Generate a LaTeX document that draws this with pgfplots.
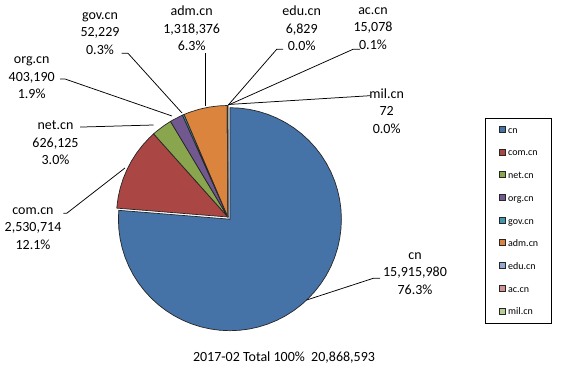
\documentclass[border=0pt]{standalone}
\usepackage{pgfplots}
\pgfplotsset{compat=1.18}
\usepackage{fontspec}
\setmainfont{Carlito}
\definecolor{ccn}{HTML}{4572A7}
\definecolor{ccom}{HTML}{AA4643}
\definecolor{cnet}{HTML}{89A54E}
\definecolor{corg}{HTML}{71588F}
\definecolor{cgov}{HTML}{4198AF}
\definecolor{cadm}{HTML}{DB843D}
\definecolor{cedu}{HTML}{93A9CF}
\definecolor{cac}{HTML}{D19392}
\definecolor{cmil}{HTML}{B9CD96}
\begin{document}
\begin{tikzpicture}[x=1pt,y=1pt]
\path[use as bounding box] (0,0) rectangle (563,369);
% Values: cn 15915980, com.cn 2530714, net.cn 626125, org.cn 403190, gov.cn 52229,
% adm.cn 1318376, edu.cn 6829, ac.cn 15078, mil.cn 72 (total 20868593);
% wedge boundaries in degrees, clockwise from 12 o'clock.
\begin{axis}[x=111.5pt,y=111.5pt,hide axis,
  xmin=-1.05,xmax=1.05,ymin=-1.05,ymax=1.05,
  anchor=origin,at={(227.9pt,152pt)},clip=false,
  wedge/.style={draw=black!85,line width=0.7pt,data cs=polar,forget plot},
  legend image code/.code={\draw[#1] (0pt,-2.5pt) rectangle (6pt,3.5pt);},
  legend cell align=left,
  legend style={at={(1.5993,0.9241)},anchor=north west,draw=black,line width=0.8pt,
    font=\fontsize{10}{12}\selectfont,row sep=0pt,inner xsep=13.4pt,inner ysep=0.3pt,
    column sep=2.5pt,
    nodes={inner sep=0pt,text height=14.85pt,text depth=7.85pt}},
]
\addplot[wedge,fill=ccn,xshift=2pt,yshift=-2.2pt] coordinates {(0,0) (90,1) (85,1) (80,1) (75,1) (70,1) (65,1) (60,1) (55,1) (50,1) (45,1) (40,1) (35,1) (30,1) (25,1) (20,1) (15,1) (10,1) (5,1) (0,1) (-5,1) (-10,1) (-15,1) (-20,1) (-25,1) (-30,1) (-35,1) (-40,1) (-45,1) (-50,1) (-55,1) (-60,1) (-65,1) (-70,1) (-75,1) (-80,1) (-85,1) (-90,1) (-95,1) (-100,1) (-105,1) (-110,1) (-115,1) (-120,1) (-125,1) (-130,1) (-135,1) (-140,1) (-145,1) (-150,1) (-155,1) (-160,1) (-165,1) (-170,1) (-175,1) (-180,1) (-184.564,1)} -- cycle;
\addplot[wedge,fill=ccom] coordinates {(0,0) (-184.564,1) (-190,1) (-195,1) (-200,1) (-205,1) (-210,1) (-215,1) (-220,1) (-225,1) (-228.221,1)} -- cycle;
\addplot[wedge,fill=cnet] coordinates {(0,0) (-228.221,1) (-230,1) (-235,1) (-239.022,1)} -- cycle;
\addplot[wedge,fill=corg] coordinates {(0,0) (-239.022,1) (-240,1) (-245,1) (-245.977,1)} -- cycle;
\addplot[wedge,fill=cgov] coordinates {(0,0) (-245.977,1) (-246.878,1)} -- cycle;
\addplot[wedge,fill=cadm] coordinates {(0,0) (-246.878,1) (-250,1) (-255,1) (-260,1) (-265,1) (-269.621,1)} -- cycle;
\addplot[wedge,fill=cedu] coordinates {(0,0) (-269.621,1) (-269.739,1)} -- cycle;
\addplot[wedge,fill=cac] coordinates {(0,0) (-269.739,1) (-269.999,1)} -- cycle;
\addplot[wedge,fill=cmil] coordinates {(0,0) (-269.999,1) (-270,1)} -- cycle;
\addlegendimage{fill=ccn,draw=black!85,line width=0.6pt}\addlegendentry{cn}
\addlegendimage{fill=ccom,draw=black!85,line width=0.6pt}\addlegendentry{com.cn}
\addlegendimage{fill=cnet,draw=black!85,line width=0.6pt}\addlegendentry{net.cn}
\addlegendimage{fill=corg,draw=black!85,line width=0.6pt}\addlegendentry{org.cn}
\addlegendimage{fill=cgov,draw=black!85,line width=0.6pt}\addlegendentry{gov.cn}
\addlegendimage{fill=cadm,draw=black!85,line width=0.6pt}\addlegendentry{adm.cn}
\addlegendimage{fill=cedu,draw=black!85,line width=0.6pt}\addlegendentry{edu.cn}
\addlegendimage{fill=cac,draw=black!85,line width=0.6pt}\addlegendentry{ac.cn}
\addlegendimage{fill=cmil,draw=black!85,line width=0.6pt}\addlegendentry{mil.cn}
\end{axis}
\begin{scope}[line width=0.75pt]
\draw (121.7,315.7) -- (128,315.7) -- (182,256);
\draw (60,290) -- (65,290) -- (172,253);
\draw (205,316) -- (205,263);
\draw (283,319.7) -- (276.7,319.7) -- (228.3,264);
\draw (360,319.7) -- (353,319.7) -- (228.5,264);
\draw (370,273.3) -- (228.5,264.5);
\draw (80,242) -- (83,242) -- (153.5,244);
\draw (63.3,155.7) -- (66.7,155.7) -- (125,201);
\draw (380,90.7) -- (373.3,90.7) -- (306.7,69);
\end{scope}
\begin{scope}[every node/.style={align=center,inner sep=0pt,font=\fontsize{14}{17.6}\selectfont}]
\node at (100,335.5) {gov.cn\\52,229\\0.3\%};
\node at (191.7,340.5) {adm.cn\\1,318,376\\6.3\%};
\node at (301.7,340.5) {edu.cn\\6,829\\0.0\%};
\node at (373,340.5) {ac.cn\\15,078\\0.1\%};
\node at (31.7,291) {org.cn\\403,190\\1.9\%};
\node at (386.7,258) {mil.cn\\72\\0.0\%};
\node at (55.5,226) {net.cn\\626,125\\3.0\%};
\node at (33,140.7) {com.cn\\2,530,714\\12.1\%};
\node at (415,95.5) {cn\\15,915,980\\76.3\%};
\node at (284,11) {2017-02 Total 100\%\ \ 20,868,593};
\end{scope}
\end{tikzpicture}
\end{document}
